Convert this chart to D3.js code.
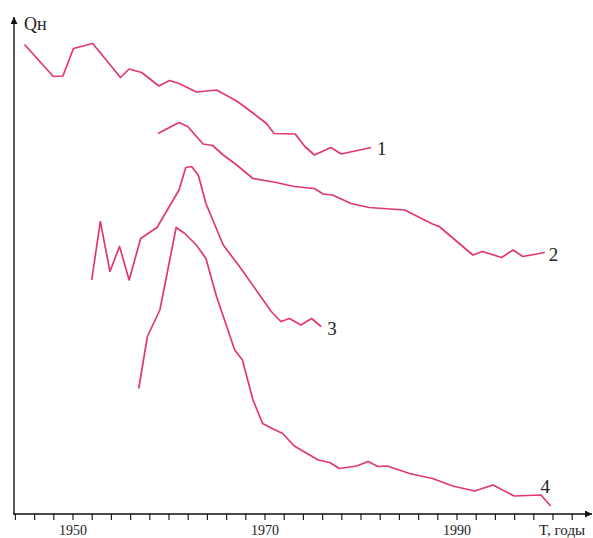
<!DOCTYPE html>
<html>
<head>
<meta charset="utf-8">
<script src="https://cdn.jsdelivr.net/npm/d3@7/dist/d3.min.js"></script>
<style>
  html, body { margin: 0; padding: 0; background: #fff; }
  svg { display: block; }
  text { font-family: "Liberation Serif", "DejaVu Serif", serif; fill: #222; }
</style>
</head>
<body>
<svg id="chart" width="593" height="538"></svg>
<script>
// ---- Data ----
const yearTicks = d3.range(1944, 2003, 2);
const yearLabels = [1950, 1970, 1990];

const series1Years  = [1945, 1948, 1949, 1950.1, 1952.1, 1955, 1955.9, 1957.2, 1959, 1960.1, 1961.1, 1962.9, 1965, 1967.1, 1968.8, 1970.2, 1971, 1973.2, 1974.2, 1975.2, 1976.9, 1978, 1981.1];
const series1Values = [93.9, 87.5, 87.6, 93.1, 94.1, 87.3, 89.0, 88.3, 85.6, 86.7, 86.1, 84.4, 84.8, 82.6, 80.2, 78.1, 76.1, 76.0, 73.5, 71.8, 73.3, 72.0, 73.3];

const series2Years  = [1958.9, 1961.1, 1962, 1963.6, 1964.6, 1965.7, 1967.1, 1968.8, 1971.2, 1973.1, 1975.2, 1976.1, 1977.1, 1979, 1980.9, 1984.6, 1987.5, 1988.2, 1991.7, 1992.7, 1994.7, 1995.9, 1996.9, 1999.2];
const series2Values = [76.1, 78.3, 77.5, 74.0, 73.7, 71.8, 69.8, 67.1, 66.3, 65.5, 65.1, 64.0, 63.8, 62.1, 61.3, 60.8, 58.0, 57.5, 51.8, 52.5, 51.3, 52.8, 51.5, 52.3];

const series3Years  = [1952, 1952.9, 1953.9, 1954.9, 1955.9, 1957.1, 1958.8, 1961.1, 1961.8, 1962.4, 1963.1, 1963.9, 1965.7, 1967.4, 1970.7, 1971.7, 1972.6, 1973.8, 1974.9, 1975.9];
const series3Values = [46.8, 58.5, 48.5, 53.5, 46.8, 55.1, 57.3, 64.8, 69.3, 69.5, 67.8, 62.1, 53.8, 49.5, 40.5, 38.5, 39.1, 37.8, 39.1, 37.5];

const series4Years  = [1956.9, 1957.8, 1959.1, 1960.8, 1961.7, 1962.9, 1963.9, 1965, 1966.9, 1967.7, 1968.8, 1969.8, 1970.8, 1971.9, 1973.1, 1974.7, 1975.6, 1976.8, 1977.8, 1979.6, 1980.8, 1981.8, 1982.8, 1985.1, 1987.5, 1989.6, 1991.9, 1993.8, 1996, 1998.8, 1999.8];
const series4Values = [25.1, 35.5, 40.8, 57.3, 56.1, 53.8, 51.1, 43.5, 32.8, 30.8, 22.8, 18.1, 17.1, 16.1, 13.6, 11.8, 10.8, 10.3, 9.1, 9.6, 10.5, 9.5, 9.6, 8.1, 7.1, 5.6, 4.6, 5.8, 3.6, 3.8, 1.6];

const seriesNames = ["1", "2", "3", "4"];
const xTitle = "T, годы";
const yTitle = "Qн";

// ---- Layout ----
const svg = d3.select("#chart");
const lineColor = "#e2386c";
const axisY = 514, axisX = 14;

const x = d3.scaleLinear().domain([1944, 2002]).range([14.9, 571.7]);
const y = d3.scaleLinear().domain([0, 100]).range([514, 14]);

// arrow marker
svg.append("defs").append("marker")
  .attr("id", "arrow").attr("viewBox", "0 0 10 10")
  .attr("refX", 10).attr("refY", 5)
  .attr("markerWidth", 9).attr("markerHeight", 7)
  .attr("markerUnits", "userSpaceOnUse")
  .attr("orient", "auto")
  .append("path").attr("d", "M0,0 L10,5 L0,10 Z").attr("fill", "#111");

// x axis
const xAxis = d3.axisBottom(x)
  .tickValues(yearTicks)
  .tickSize(6)
  .tickFormat(d => yearLabels.includes(d) ? String(d) : "");
const gx = svg.append("g").attr("transform", `translate(0,${axisY})`).call(xAxis);
gx.select(".domain").remove();
gx.selectAll(".tick line").attr("stroke", "#222").attr("stroke-width", 1.2);
gx.selectAll(".tick text")
  .attr("y", 21)
  .attr("dy", 0)
  .style("font-family", "Liberation Serif, serif")
  .style("font-size", "14px")
  .attr("fill", "#333");

svg.append("line")
  .attr("x1", axisX - 1).attr("y1", axisY)
  .attr("x2", 592).attr("y2", axisY)
  .attr("stroke", "#111").attr("stroke-width", 1.4)
  .attr("marker-end", "url(#arrow)");

// y axis
svg.append("line")
  .attr("x1", axisX).attr("y1", axisY)
  .attr("x2", axisX).attr("y2", 17)
  .attr("stroke", "#111").attr("stroke-width", 1.4)
  .attr("marker-end", "url(#arrow)");

svg.append("text").attr("x", 24).attr("y", 30)
  .style("font-size", "18px").text(yTitle);

svg.append("text").attr("x", 539).attr("y", 535)
  .style("font-size", "15px").attr("fill", "#333").text(xTitle);

// lines
const allSeries = [
  { years: series1Years, values: series1Values, name: seriesNames[0], dx: 6, dy: 7 },
  { years: series2Years, values: series2Values, name: seriesNames[1], dx: 4, dy: 8 },
  { years: series3Years, values: series3Values, name: seriesNames[2], dx: 6, dy: 8 },
  { years: series4Years, values: series4Values, name: seriesNames[3], dx: -10, dy: -13 }
];

const line = d3.line().x(d => x(d[0])).y(d => y(d[1]));

allSeries.forEach(s => {
  const pts = s.years.map((yr, i) => [yr, s.values[i]]);
  svg.append("path")
    .datum(pts)
    .attr("d", line)
    .attr("fill", "none")
    .attr("stroke", lineColor)
    .attr("stroke-width", 1.7)
    .attr("stroke-linejoin", "round");
  const last = pts[pts.length - 1];
  svg.append("text")
    .attr("x", x(last[0]) + s.dx)
    .attr("y", y(last[1]) + s.dy)
    .style("font-size", "19px")
    .text(s.name);
});
</script>
</body>
</html>
